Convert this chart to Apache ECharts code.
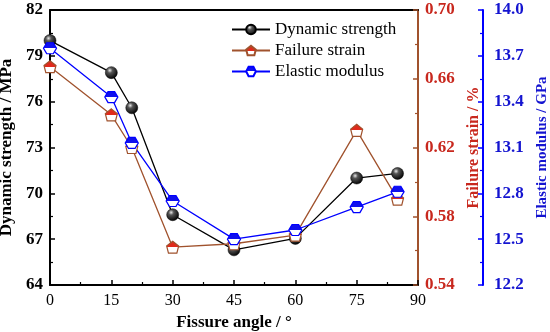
<!DOCTYPE html>
<html><head><meta charset="utf-8">
<script src="https://cdn.jsdelivr.net/npm/echarts@6/dist/echarts.min.js"></script>
<style>html,body{margin:0;padding:0;background:#fff}#c{width:550px;height:332px}</style>
</head><body><div id="c"></div>
<script>
const angles = [0, 15, 20, 30, 45, 60, 75, 85];
const dynamicStrength = [80.0, 77.9, 75.6, 68.6, 66.3, 67.05, 71.0, 71.3];
const failureStrain = [0.667, 0.639, 0.620, 0.562, 0.564, 0.569, 0.630, 0.590];
const elasticModulus = [13.75, 13.43, 13.13, 12.75, 12.50, 12.56, 12.71, 12.81];
const xTicks = [0, 90, 15];
const leftAxis = [64, 82, 3];
const strainAxis = [0.54, 0.70, 0.04];
const modulusAxis = [12.2, 14.0, 0.3];

const FONT = '"Liberation Serif", "Times New Roman", serif';
const BROWN = '#a0522d', RED = '#c8281e', BLUE = '#0000ff', LBLUE = '#1414d0';

function half(top, bottom) {
  return new echarts.graphic.LinearGradient(0, 0, 0, 1, [
    {offset: 0, color: top}, {offset: 0.5, color: top},
    {offset: 0.5, color: bottom}, {offset: 1, color: bottom}]);
}
const sphere = new echarts.graphic.RadialGradient(0.38, 0.32, 0.7, [
  {offset: 0, color: '#e8e8e8'}, {offset: 0.3, color: '#555'}, {offset: 1, color: '#000'}]);

function pairs(vals, base) { return angles.map((a, i) => [a, +(vals[i] - base).toFixed(6)]); }

function yAx(range, opts) {
  const [lo, hi, step] = range;
  const dec = opts.dec;
  return Object.assign({
    type: 'value', min: 0, max: +(hi - lo).toFixed(6), interval: step,
    splitLine: {show: false},
    axisTick: {show: true, inside: true, length: 5, lineStyle: {width: 1.5, color: opts.color}},
    minorTick: {show: true, splitNumber: 2, length: 3, lineStyle: {width: 1.2, color: opts.color}},
    axisLine: {show: true, onZero: false, lineStyle: {color: opts.color, width: 2}},
    axisLabel: {
      formatter: v => (v + lo).toFixed(dec),
      fontFamily: FONT, fontWeight: 'bold', fontSize: 17, color: opts.labelColor, margin: opts.margin
    },
    nameLocation: 'middle', nameRotate: 90,
    nameTextStyle: {fontFamily: FONT, fontWeight: 'bold', fontSize: opts.nameSize, color: opts.nameColor}
  }, opts.extra);
}

const chart = echarts.init(document.getElementById('c'), null, {renderer: 'canvas'});
chart.setOption({
  animation: false,
  backgroundColor: '#fff',
  grid: {left: 50, right: 132, top: 10, bottom: 47, containLabel: false, outerBoundsMode: 'none'},
  legend: {
    left: 226, top: 16, orient: 'vertical', itemWidth: 38, itemHeight: 12, itemGap: 4,
    textStyle: {fontFamily: FONT, fontSize: 17, color: '#000'},
    data: ['Dynamic strength', 'Failure strain', 'Elastic modulus']
  },
  xAxis: [{
    type: 'value', min: xTicks[0], max: xTicks[1], interval: xTicks[2],
    splitLine: {show: false},
    axisLine: {onZero: false, lineStyle: {color: '#000', width: 2}},
    axisTick: {inside: true, length: 5, lineStyle: {width: 1.5}},
    minorTick: {show: true, splitNumber: 2, length: 3, lineStyle: {width: 1.2, color: '#000'}},
    axisLabel: {fontFamily: FONT, fontSize: 16, color: '#000', margin: 8},
    name: 'Fissure angle / °', nameLocation: 'middle', nameGap: 27,
    nameTextStyle: {fontFamily: FONT, fontWeight: 'bold', fontSize: 17, color: '#000'}
  }, {
    type: 'value', position: 'top', min: 0, max: 90,
    axisLine: {onZero: false, lineStyle: {color: '#000', width: 2}},
    axisTick: {show: false}, axisLabel: {show: false}, splitLine: {show: false}
  }],
  yAxis: [
    yAx(leftAxis, {dec: 0, color: '#000', labelColor: '#000', nameColor: '#000', margin: 7, nameSize: 17,
      extra: {position: 'left', name: 'Dynamic strength / MPa', nameGap: 27}}),
    yAx(strainAxis, {dec: 2, color: BROWN, labelColor: RED, nameColor: RED, margin: 7, nameSize: 16,
      extra: {position: 'right', offset: 0, name: 'Failure strain / %', nameGap: 44}}),
    yAx(modulusAxis, {dec: 1, color: BLUE, labelColor: LBLUE, nameColor: LBLUE, margin: 11, nameSize: 15,
      extra: {position: 'right', offset: 65, name: 'Elastic modulus / GPa', nameGap: 48}})
  ],
  series: [{
    name: 'Dynamic strength', type: 'line', yAxisIndex: 0,
    data: pairs(dynamicStrength, leftAxis[0]),
    symbol: 'circle', symbolSize: 12,
    lineStyle: {color: '#000', width: 1.3},
    itemStyle: {color: sphere, borderColor: '#000', borderWidth: 0.5}
  }, {
    name: 'Failure strain', type: 'line', yAxisIndex: 1,
    data: pairs(failureStrain, strainAxis[0]),
    symbol: 'path://M5,0 L10,4 L8.5,10 L1.5,10 L0,4 Z', symbolSize: 12, symbolKeepAspect: true,
    lineStyle: {color: BROWN, width: 1.3},
    itemStyle: {color: half('#e02a1c', '#fff'), borderColor: BROWN, borderWidth: 1.2}
  }, {
    name: 'Elastic modulus', type: 'line', yAxisIndex: 2,
    data: pairs(elasticModulus, modulusAxis[0]),
    symbol: 'path://M3,0 L9,0 L12,5 L9,10 L3,10 L0,5 Z', symbolSize: [13, 11],
    lineStyle: {color: BLUE, width: 1.3},
    itemStyle: {color: half('#1010ee', '#fff'), borderColor: BLUE, borderWidth: 1.2}
  }]
});
</script></body></html>
